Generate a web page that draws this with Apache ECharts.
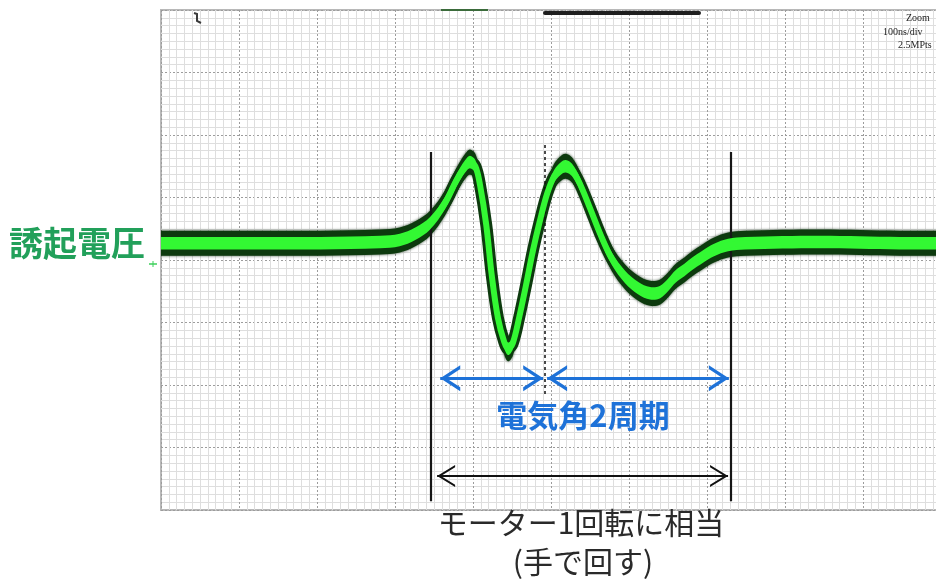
<!DOCTYPE html>
<html>
<head>
<meta charset="utf-8">
<script src="https://cdn.jsdelivr.net/npm/echarts@6.0.0/dist/echarts.min.js"></script>
<style>
  html, body { margin: 0; padding: 0; background: #ffffff; }
  #chart { width: 936px; height: 579px; }
</style>
</head>
<body>
<div id="chart"></div>
<script>
// Induced-voltage trace captured while turning the motor by hand.
// Time axis in ms (100 ms/div, 10 div), voltage axis in divisions (8 div).
const timeMs = [0, 101, 204, 281, 306, 326, 345, 364, 379, 390, 396, 403, 409, 417, 424, 432, 440, 445, 451,
  459, 468, 477, 486, 495, 504, 513, 519, 527, 537, 550, 563, 578, 595, 612, 627, 640, 650, 660, 671, 681,
  694, 709, 727, 749, 845, 947, 1000];
const voltDiv = [0.27, 0.27, 0.27, 0.29, 0.32, 0.42, 0.59, 0.91, 1.28, 1.50, 1.57, 1.50, 1.20, 0.56, -0.24,
  -0.93, -1.31, -1.42, -1.33, -0.93, -0.40, 0.16, 0.64, 1.06, 1.34, 1.47, 1.50, 1.44, 1.22, 0.83, 0.42,
  0.02, -0.27, -0.45, -0.53, -0.51, -0.40, -0.26, -0.16, -0.06, 0.05, 0.16, 0.24, 0.27, 0.29, 0.27, 0.27];

// Annotation positions (ms, div)
const rotationBounds = [346, 731];        // one mechanical revolution
const rotationBoundsV = [1.73, -3.86];
const halfPoint = 492;                    // boundary between the two electrical cycles
const halfPointV = [1.84, -2.16];
const cycleArrows = [[358, 490], [495, 728]];
const cycleArrowV = -1.89;
const rotationArrow = [354, 727];
const rotationArrowV = -3.456;

// Trace thickness (vertical noise band, in divisions)
const outerHalf = 0.2;
const innerHalf = 0.1;

const centre = timeMs.map((t, i) => [t, voltDiv[i]]);

const DARK = '#0d3a0e';
const BRIGHT = '#33f833';
const BLUE = '#1e72d8';

// Open chevron heads, tip sits at the symbol centre
const blueHead = 'path://M13,0 L13.01,0 L13,0.01 Z M0,40 L13,20 L26,40 L22.1,40 L13,26 L3.9,40 Z';
const blackHead = 'path://M11,0 L11.01,0 L11,0.01 Z M0,36 L11,18 L22,36 L19.7,36 L11,21.8 L2.3,36 Z';

const markData = [
  [{ coord: [rotationBounds[0], rotationBoundsV[0]] }, { coord: [rotationBounds[0], rotationBoundsV[1]] }],
  [{ coord: [rotationBounds[1], rotationBoundsV[0]] }, { coord: [rotationBounds[1], rotationBoundsV[1]] }],
  [{ coord: [halfPoint, halfPointV[0]], lineStyle: { type: [3, 3], width: 1.5, color: '#111' } },
   { coord: [halfPoint, halfPointV[1]] }],
  ...cycleArrows.map(a => [
    { coord: [a[0], cycleArrowV], symbol: blueHead, symbolSize: [26, 40],
      lineStyle: { color: BLUE, width: 3, type: 'solid' }, itemStyle: { color: BLUE } },
    { coord: [a[1], cycleArrowV], symbol: blueHead, symbolSize: [26, 40] }
  ]),
  [{ coord: [rotationArrow[0], rotationArrowV], symbol: blackHead, symbolSize: [22, 36],
     lineStyle: { color: '#111', width: 2, type: 'solid' }, itemStyle: { color: '#111' } },
   { coord: [rotationArrow[1], rotationArrowV], symbol: blackHead, symbolSize: [22, 36] }]
];

// Noise band of the trace: smooth closed polygon between v+half and v-half,
// with the ends pushed outside the plot and clipped away.
function bandRenderer(half, fill, blur) {
  return function (params, api) {
    if (params.dataIndex !== 0) return null;
    const cs = params.coordSys;
    const upper = [], lower = [];
    for (let i = 0; i < timeMs.length; i++) {
      upper.push(api.coord([timeMs[i], voltDiv[i] + half]));
      lower.push(api.coord([timeMs[i], voltDiv[i] - half]));
    }
    const pad = 40;
    upper.unshift([upper[0][0] - pad, upper[0][1]]);
    upper.push([upper[upper.length - 1][0] + pad, upper[upper.length - 1][1]]);
    lower.unshift([lower[0][0] - pad, lower[0][1]]);
    lower.push([lower[lower.length - 1][0] + pad, lower[lower.length - 1][1]]);
    const ring = upper.concat(lower.reverse());
    return {
      type: 'group',
      clipPath: { type: 'rect', shape: { x: cs.x, y: cs.y, width: cs.width, height: cs.height } },
      children: [{
        type: 'polygon',
        shape: { points: ring, smooth: 0.35 },
        style: { fill: fill, shadowBlur: blur, shadowColor: blur ? 'rgba(0,30,0,0.8)' : null }
      }]
    };
  };
}

const chart = echarts.init(document.getElementById('chart'), null, { renderer: 'canvas' });

chart.setOption({
  animation: false,
  backgroundColor: '#ffffff',
  // the screen runs past the right edge of the canvas
  grid: { left: 161, top: 10, width: 780, height: 500, outerBoundsMode: 'none', containLabel: false,
          show: true, borderColor: '#b8b8b8', borderWidth: 2, backgroundColor: '#ffffff' },
  xAxis: {
    type: 'value', min: 0, max: 1000, interval: 100,
    axisLine: { show: false }, axisTick: { show: false }, axisLabel: { show: false },
    splitLine: { show: true, lineStyle: { color: '#9c9c9c', type: [2, 2], width: 1 } },
    minorTick: { show: false, splitNumber: 10 },
    minorSplitLine: { show: true, lineStyle: { color: '#dedede', width: 1 } }
  },
  yAxis: {
    type: 'value', min: -4, max: 4, interval: 1,
    axisLine: { show: false }, axisTick: { show: false }, axisLabel: { show: false },
    splitLine: { show: true, lineStyle: { color: '#9c9c9c', type: [2, 2], width: 1 } },
    minorTick: { show: false, splitNumber: 8 },
    minorSplitLine: { show: true, lineStyle: { color: '#dedede', width: 1 } }
  },
  series: [
    { type: 'custom', data: centre, renderItem: bandRenderer(outerHalf, DARK, 3), z: 3, silent: true },
    { type: 'line', data: centre, smooth: 0.35, symbol: 'none', z: 4, silent: true, clip: true,
      lineStyle: { color: DARK, width: 12, cap: 'butt', join: 'round' } },
    { type: 'custom', data: centre, renderItem: bandRenderer(innerHalf, BRIGHT, 0), z: 5, silent: true },
    { type: 'line', data: centre, smooth: 0.35, symbol: 'none', z: 6, silent: true, clip: true,
      lineStyle: { color: BRIGHT, width: 6, cap: 'butt', join: 'round' },
      markLine: {
        silent: true, animation: false, symbol: 'none', precision: 3,
        label: { show: false },
        lineStyle: { color: '#161616', width: 2.2, type: 'solid' },
        emphasis: { disabled: true },
        data: markData
      }
    }
  ],
  graphic: [
    // scope status bars along the top edge
    { type: 'rect', shape: { x: 441, y: 9, width: 47, height: 2 }, style: { fill: '#3b6b3b' }, z: 10 },
    { type: 'rect', shape: { x: 543, y: 11, width: 158, height: 4, r: 2 }, style: { fill: '#1e1e1e' }, z: 10 },
    { type: 'polyline', shape: { points: [[194, 13], [197, 14], [197, 21], [201, 23]] },
      style: { stroke: '#3a3a3a', lineWidth: 2, fill: null }, z: 10 },
    { type: 'text', style: { text: 'Zoom', x: 906, y: 18, font: '10px "Liberation Serif"', fill: '#222',
      textVerticalAlign: 'middle' }, z: 10 },
    { type: 'text', style: { text: '100ns/div', x: 883, y: 32, font: '10px "Liberation Serif"', fill: '#222',
      textVerticalAlign: 'middle' }, z: 10 },
    { type: 'text', style: { text: '2.5MPts', x: 898, y: 45, font: '10px "Liberation Serif"', fill: '#222',
      textVerticalAlign: 'middle' }, z: 10 },
    // ground-level marker
    { type: 'polyline', shape: { points: [[149, 264], [157, 264]] },
      style: { stroke: '#3ccf5a', lineWidth: 1.5, fill: null }, z: 10 },
    { type: 'polyline', shape: { points: [[153, 261], [153, 267]] },
      style: { stroke: '#3ccf5a', lineWidth: 1, fill: null }, z: 10 },
    // labels
    { type: 'text', style: { text: '誘起電圧', x: 9, y: 243, font: 'bold 34px "Noto Sans CJK JP"',
      fill: '#22a05a', textVerticalAlign: 'middle' }, z: 10 },
    { type: 'text', style: { text: '電気角2周期', x: 583, y: 415, font: 'bold 31px "Noto Sans CJK JP"',
      fill: BLUE, textAlign: 'center', textVerticalAlign: 'middle' }, z: 10 },
    { type: 'text', style: { text: 'モーター1回転に相当', x: 581, y: 523, font: '30px "Noto Sans CJK JP"',
      fill: '#2a2a2a', textAlign: 'center', textVerticalAlign: 'middle' }, z: 10 },
    { type: 'text', style: { text: '(手で回す)', x: 583, y: 562, font: '30px "Noto Sans CJK JP"',
      fill: '#2a2a2a', textAlign: 'center', textVerticalAlign: 'middle' }, z: 10 }
  ]
});
</script>
</body>
</html>
